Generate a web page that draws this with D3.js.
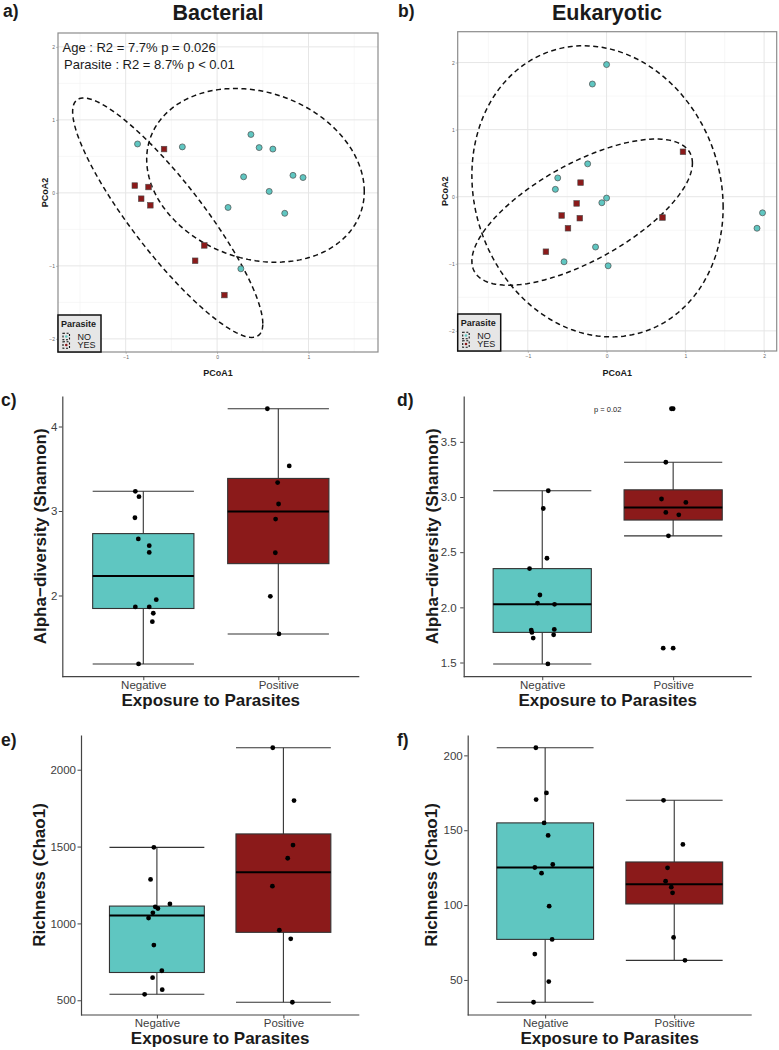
<!DOCTYPE html>
<html>
<head>
<meta charset="utf-8">
<script src="https://cdn.jsdelivr.net/npm/d3@7"></script>
<style>
  body { margin: 0; background: #fff; }
  text { font-family: "Liberation Sans", Arial, Helvetica, sans-serif; }
</style>
</head>
<body>
<script>
var W = 779, H = 1050;
var CYAN = "#5fc6c1", RED = "#8b1a1a";

// ---- PCoA, bacterial
var bacNO_x = [-0.87, -0.38, 0.37, 0.46, 0.61, 0.29, 0.83, 0.94, 0.57, 0.12, 0.74, 0.26];
var bacNO_y = [0.67, 0.63, 0.80, 0.62, 0.60, 0.22, 0.24, 0.21, 0.02, -0.20, -0.28, -1.04];
var bacYES_x = [-0.58, -0.90, -0.75, -0.83, -0.73, -0.14, -0.24, 0.08];
var bacYES_y = [0.60, 0.10, 0.08, -0.08, -0.17, -0.72, -0.93, -1.40];
// ellipses: centre x, centre y, half width, half height, correlation
var bacEllNO = [0.42, 0.24, 1.19, 1.19, -0.185];
var bacEllYES = [-0.54, -0.34, 1.04, 1.64, -0.885];
var bacXDom = [-1.74, 1.76], bacYDom = [-2.18, 2.19];
var bacXTicks = [-1, 0, 1], bacYTicks = [-2, -1, 0, 1, 2];
var bacNotes = ["Age : R2 = 7.7% p = 0.026", "Parasite : R2 = 8.7% p < 0.01"];

// ---- PCoA, eukaryotic
var eukNO_x = [0.00, -0.18, -0.24, -0.62, -0.65, 0.00, -0.06, -0.14, -0.54, 0.02, 1.98, 1.91];
var eukNO_y = [1.97, 1.68, 0.49, 0.28, 0.11, -0.02, -0.09, -0.75, -0.97, -1.03, -0.24, -0.47];
var eukYES_x = [0.97, -0.33, -0.38, -0.57, -0.34, -0.49, -0.77, 0.71];
var eukYES_y = [0.67, 0.21, -0.10, -0.28, -0.32, -0.47, -0.82, -0.31];
var eukEllNO = [-0.115, 0.08, 1.595, 2.17, -0.11];
var eukEllYES = [-0.31, -0.23, 1.40, 1.09, 0.67];
var eukXDom = [-1.89, 2.16], eukYDom = [-2.30, 2.46];
var eukXTicks = [-1, 0, 1, 2], eukYTicks = [-2, -1, 0, 1, 2];

var legendLabels = ["NO", "YES"];

// ---- box plots
var groups = ["Negative", "Positive"];

var shanBacNeg = [3.233, 3.17, 2.92, 2.67, 2.59, 2.51, 1.95, 1.865, 1.865, 1.79, 1.69, 1.19];
var shanBacNegJit = [-0.059, -0.032, -0.062, -0.037, 0.044, 0.044, 0.096, -0.059, 0.044, 0.074, 0.067, -0.035];
var shanBacPos = [4.21, 3.534, 3.336, 3.083, 2.905, 2.506, 1.99, 1.545];
var shanBacPosJit = [-0.081, 0.081, -0.005, 0.002, -0.02, -0.022, -0.059, 0.005];

var shanEukNeg = [3.057, 2.896, 2.445, 2.351, 2.112, 2.039, 2.027, 1.794, 1.80, 1.773, 1.751, 1.721, 1.487];
var shanEukNegJit = [0.046, 0.008, 0.036, -0.097, -0.018, -0.036, 0.094, -0.084, 0.092, -0.079, 0.087, -0.069, 0.043];
var shanEukPos = [3.80, 3.315, 2.982, 2.951, 2.86, 2.839, 2.648, 1.63];
var shanEukPosJit = [-0.013, -0.056, -0.089, 0.097, -0.056, 0.043, -0.036, -0.076];

var chaoBacNeg = [1495, 1286, 1127, 1108, 1097, 1069, 1035, 859, 692, 647, 569, 539];
var chaoBacNegJit = [-0.024, -0.05, 0.103, -0.013, 0.008, -0.032, -0.066, -0.024, 0.039, -0.034, 0.042, -0.097];
var chaoBacPos = [2143, 1799, 1510, 1424, 1242, 956, 900, 487];
var chaoBacPosJit = [-0.084, 0.084, 0.076, 0.034, -0.087, -0.032, 0.058, 0.071];

var chaoEukNeg = [205.1, 174.9, 170.5, 154.9, 146.5, 127.1, 125.1, 121.3, 99.3, 77.1, 67.3, 48.9, 35.1];
var chaoEukNegJit = [-0.072, 0.010, -0.07, -0.008, 0.023, 0.059, -0.08, -0.028, 0.031, 0.054, -0.08, 0.028, -0.09];
var chaoEukPos = [170, 140.5, 124.9, 116, 112, 108.2, 78.4, 63.1];
var chaoEukPosJit = [-0.083, 0.067, -0.052, -0.067, -0.023, -0.013, -0.005, 0.083];

var svg = d3.select("body").append("svg").attr("width", W).attr("height", H);
svg.append("rect").attr("width", W).attr("height", H).attr("fill", "#fff");

function tag(x, y, s){
  svg.append("text").attr("x", x).attr("y", y).attr("font-size", 17.5)
    .attr("font-weight", "bold").attr("fill", "#1a1a1a").text(s);
}

function ellipsePts(e){ // e = [cx, cy, sx, sy, r]
  var r = e[4], k = Math.sqrt(1 - r*r);
  return d3.range(0, 2*Math.PI, Math.PI/90).map(function(t){
    return [e[0] + e[2]*Math.cos(t), e[1] + e[3]*(r*Math.cos(t) + k*Math.sin(t))];
  });
}

function pcoa(o){
  var x = d3.scaleLinear().domain(o.xDom).range([o.x0, o.x1]);
  var y = d3.scaleLinear().domain(o.yDom).range([o.y1, o.y0]);
  var g = svg.append("g");

  // grid
  var minX = d3.range(Math.floor(o.xDom[0]) + 0.5, o.xDom[1], 1).filter(function(v){ return v > o.xDom[0]; });
  var minY = d3.range(Math.floor(o.yDom[0]) + 0.5, o.yDom[1], 1).filter(function(v){ return v > o.yDom[0]; });
  g.selectAll(".mx").data(minX).enter().append("line")
    .attr("x1", x).attr("x2", x).attr("y1", o.y0).attr("y2", o.y1)
    .attr("stroke", "#f2f2f2").attr("stroke-width", 0.6);
  g.selectAll(".my").data(minY).enter().append("line")
    .attr("y1", y).attr("y2", y).attr("x1", o.x0).attr("x2", o.x1)
    .attr("stroke", "#f2f2f2").attr("stroke-width", 0.6);
  g.selectAll(".gx").data(o.xTicks).enter().append("line")
    .attr("x1", x).attr("x2", x).attr("y1", o.y0).attr("y2", o.y1)
    .attr("stroke", "#e6e6e6").attr("stroke-width", 1);
  g.selectAll(".gy").data(o.yTicks).enter().append("line")
    .attr("y1", y).attr("y2", y).attr("x1", o.x0).attr("x2", o.x1)
    .attr("stroke", "#e6e6e6").attr("stroke-width", 1);

  // axes (tiny labels)
  var ax = g.append("g").attr("transform", "translate(0," + o.y1 + ")")
    .call(d3.axisBottom(x).tickValues(o.xTicks).tickFormat(d3.format("d")).tickSize(2).tickPadding(1).tickSizeOuter(0));
  var ay = g.append("g").attr("transform", "translate(" + o.x0 + ",0)")
    .call(d3.axisLeft(y).tickValues(o.yTicks).tickFormat(d3.format("d")).tickSize(2).tickPadding(1).tickSizeOuter(0));
  [ax, ay].forEach(function(a){
    a.select(".domain").remove();
    a.selectAll(".tick line").attr("stroke", "#999").attr("stroke-width", 0.6);
    a.selectAll(".tick text").attr("font-size", 5).attr("fill", "#666")
      .attr("font-family", "'Liberation Sans', Arial, sans-serif");
  });

  // frame
  g.append("rect").attr("x", o.x0).attr("y", o.y0).attr("width", o.x1 - o.x0).attr("height", o.y1 - o.y0)
    .attr("fill", "none").attr("stroke", "#8c8c8c").attr("stroke-width", 1.2);

  // ellipses
  var line = d3.line().x(function(d){ return x(d[0]); }).y(function(d){ return y(d[1]); }).curve(d3.curveLinearClosed);
  [o.ellNO, o.ellYES].forEach(function(e){
    g.append("path").attr("d", line(ellipsePts(e))).attr("fill", "none")
      .attr("stroke", "#111").attr("stroke-width", 1.5).attr("stroke-dasharray", "5,3.5");
  });

  // points
  g.selectAll(".pn").data(o.noX).enter().append("circle")
    .attr("cx", function(d){ return x(d); }).attr("cy", function(d, i){ return y(o.noY[i]); })
    .attr("r", 3).attr("fill", CYAN).attr("stroke", "#4d4d4d").attr("stroke-width", 0.7);
  g.selectAll(".py").data(o.yesX).enter().append("rect")
    .attr("x", function(d){ return x(d) - 2.8; }).attr("y", function(d, i){ return y(o.yesY[i]) - 2.8; })
    .attr("width", 5.6).attr("height", 5.6).attr("fill", RED).attr("stroke", "#4d4d4d").attr("stroke-width", 0.6);

  // axis titles
  g.append("text").attr("x", (o.x0 + o.x1)/2).attr("y", 375.7).attr("text-anchor", "middle")
    .attr("font-size", 9).attr("font-weight", "bold").attr("fill", "#1a1a1a").text("PCoA1");
  g.append("text").attr("transform", "translate(" + (o.x0 - 10) + "," + ((o.y0 + o.y1)/2) + ") rotate(-90)")
    .attr("text-anchor", "middle").attr("font-size", 9).attr("font-weight", "bold").attr("fill", "#1a1a1a").text("PCoA2");

  // legend
  var lg = g.append("g").attr("transform", "translate(" + o.x0 + "," + (o.y1 - 37) + ")");
  lg.append("rect").attr("width", 43).attr("height", 37).attr("fill", "#e6e6e6")
    .attr("stroke", "#111").attr("stroke-width", 1.5);
  lg.append("text").attr("x", 3).attr("y", 11.5).attr("font-size", 9).attr("font-weight", "bold")
    .attr("fill", "#1a1a1a").text("Parasite");
  var cols = [CYAN, RED];
  legendLabels.forEach(function(lab, i){
    var cy = 21.5 + i*8.5;
    lg.append("rect").attr("x", 5).attr("y", cy - 3.2).attr("width", 6.5).attr("height", 6.4)
      .attr("fill", "none").attr("stroke", "#111").attr("stroke-width", 1.1).attr("stroke-dasharray", "2,1.6");
    lg.append("circle").attr("cx", 8.3).attr("cy", cy).attr("r", 1.3).attr("fill", cols[i]);
    lg.append("text").attr("x", 19.5).attr("y", cy + 3.3).attr("font-size", 9).attr("fill", "#1a1a1a").text(lab);
  });

  // notes
  (o.notes || []).forEach(function(s, i){
    g.append("text").attr("x", o.x0 + 4.5 + i*1.6).attr("y", o.y0 + 19 + i*17.3)
      .attr("font-size", 13).attr("fill", "#1a1a1a").text(s);
  });
}

function boxPanel(o){
  var x = d3.scalePoint().domain(groups).range([o.x0, o.x1]).padding(0.6);
  var bw = 0.75*x.step();
  var all = o.neg.concat(o.pos), ext = d3.extent(all), pad = 0.05*(ext[1] - ext[0]);
  var y = d3.scaleLinear().domain([ext[0] - pad, ext[1] + pad]).range([o.y1, o.y0]);
  var g = svg.append("g");
  var sets = [
    {cat: groups[0], vals: o.neg, jit: o.negJit, fill: CYAN},
    {cat: groups[1], vals: o.pos, jit: o.posJit, fill: RED}
  ];
  sets.forEach(function(s){
    var v = s.vals.slice().sort(d3.ascending);
    var q1 = d3.quantile(v, 0.25), med = d3.quantile(v, 0.5), q3 = d3.quantile(v, 0.75), iqr = q3 - q1;
    var inside = v.filter(function(d){ return d >= q1 - 1.5*iqr && d <= q3 + 1.5*iqr; });
    var lo = d3.min(inside), hi = d3.max(inside);
    var out = v.filter(function(d){ return d < lo || d > hi; });
    var cx = x(s.cat);
    g.append("line").attr("x1", cx).attr("x2", cx).attr("y1", y(lo)).attr("y2", y(hi))
      .attr("stroke", "#333").attr("stroke-width", 1.1);
    [lo, hi].forEach(function(w){
      g.append("line").attr("x1", cx - bw/2).attr("x2", cx + bw/2).attr("y1", y(w)).attr("y2", y(w))
        .attr("stroke", "#333").attr("stroke-width", 1.1);
    });
    g.append("rect").attr("x", cx - bw/2).attr("y", y(q3)).attr("width", bw).attr("height", y(q1) - y(q3))
      .attr("fill", s.fill).attr("stroke", "#333").attr("stroke-width", 1.1);
    g.append("line").attr("x1", cx - bw/2).attr("x2", cx + bw/2).attr("y1", y(med)).attr("y2", y(med))
      .attr("stroke", "#000").attr("stroke-width", 2);
    out.forEach(function(d){
      g.append("circle").attr("cx", cx).attr("cy", y(d)).attr("r", 2.4).attr("fill", "#000");
    });
    g.selectAll(null).data(s.vals).enter().append("circle")
      .attr("cx", function(d, i){ return cx + s.jit[i]*x.step(); })
      .attr("cy", function(d){ return y(d); })
      .attr("r", 2.4).attr("fill", "#000");
  });

  var ax = g.append("g").attr("transform", "translate(0," + o.y1 + ")")
    .call(d3.axisBottom(x).tickSize(3.5).tickPadding(0.5).tickSizeOuter(0));
  var ay = g.append("g").attr("transform", "translate(" + o.x0 + ",0)")
    .call(d3.axisLeft(y).tickValues(o.yTicks).tickFormat(d3.format(o.fmt)).tickSize(3.5).tickPadding(o.tickPad || 1.5).tickSizeOuter(0));
  // x axis line spans the whole panel
  ax.select(".domain").attr("d", "M" + o.x0 + ",0H" + o.x1);
  [ax, ay].forEach(function(a){
    a.select(".domain").attr("stroke", "#444").attr("stroke-width", 1.2);
    a.selectAll(".tick line").attr("stroke", "#444").attr("stroke-width", 1);
    a.selectAll(".tick text").attr("font-size", 11.5).attr("fill", "#3d3d3d")
      .attr("font-family", "'Liberation Sans', Arial, sans-serif");
  });

  g.append("text").attr("x", (o.x0 + o.x1)/2).attr("y", o.y1 + 29)
    .attr("text-anchor", "middle").attr("font-size", 17).attr("font-weight", "bold").attr("fill", "#1a1a1a")
    .text("Exposure to Parasites");
  g.append("text").attr("transform", "translate(" + o.ylabX + "," + ((o.y0 + o.y1)/2) + ") rotate(-90)")
    .attr("text-anchor", "middle").attr("font-size", 17).attr("font-weight", "bold").attr("fill", "#1a1a1a")
    .text(o.ylab);
  if(o.pnote){
    g.append("text").attr("x", (o.x0 + o.x1)/2).attr("y", y(o.pnote[1]) + 3)
      .attr("text-anchor", "middle").attr("font-size", 7.5).attr("fill", "#1a1a1a").text(o.pnote[0]);
  }
}

// titles
svg.append("text").attr("x", 218).attr("y", 19.8).attr("text-anchor", "middle")
  .attr("font-size", 21.5).attr("font-weight", "bold").attr("fill", "#1a1a1a").text("Bacterial");
svg.append("text").attr("x", 607).attr("y", 19.8).attr("text-anchor", "middle")
  .attr("font-size", 21.5).attr("font-weight", "bold").attr("fill", "#1a1a1a").text("Eukaryotic");
tag(3, 17, "a)");
tag(398, 17, "b)");
tag(1, 406, "c)");
tag(397, 406, "d)");
tag(1, 746, "e)");
tag(397, 746, "f)");

pcoa({x0: 58, x1: 378, y0: 33, y1: 352, xDom: bacXDom, yDom: bacYDom, xTicks: bacXTicks, yTicks: bacYTicks,
  noX: bacNO_x, noY: bacNO_y, yesX: bacYES_x, yesY: bacYES_y, ellNO: bacEllNO, ellYES: bacEllYES, notes: bacNotes});
pcoa({x0: 457.7, x1: 776.7, y0: 31.7, y1: 351, xDom: eukXDom, yDom: eukYDom, xTicks: eukXTicks, yTicks: eukYTicks,
  noX: eukNO_x, noY: eukNO_y, yesX: eukYES_x, yesY: eukYES_y, ellNO: eukEllNO, ellYES: eukEllYES});

boxPanel({x0: 62.3, x1: 359.3, y0: 396, y1: 676.7, neg: shanBacNeg, negJit: shanBacNegJit, pos: shanBacPos, posJit: shanBacPosJit,
  yTicks: [2, 3, 4], fmt: "d", ylab: "Alpha\u2212diversity (Shannon)", ylabX: 46});
boxPanel({x0: 463.7, x1: 751.7, y0: 396, y1: 676.7, neg: shanEukNeg, negJit: shanEukNegJit, pos: shanEukPos, posJit: shanEukPosJit,
  yTicks: [1.5, 2, 2.5, 3, 3.5], fmt: ".1f", tickPad: 3.5, ylab: "Alpha\u2212diversity (Shannon)", ylabX: 438, pnote: ["p = 0.02", 3.8]});
boxPanel({x0: 81, x1: 359.3, y0: 735, y1: 1015, neg: chaoBacNeg, negJit: chaoBacNegJit, pos: chaoBacPos, posJit: chaoBacPosJit,
  yTicks: [500, 1000, 1500, 2000], fmt: "d", ylab: "Richness (Chao1)", ylabX: 45});
boxPanel({x0: 467.7, x1: 751.7, y0: 735, y1: 1015, neg: chaoEukNeg, negJit: chaoEukNegJit, pos: chaoEukPos, posJit: chaoEukPosJit,
  yTicks: [50, 100, 150, 200], fmt: "d", ylab: "Richness (Chao1)", ylabX: 437});
</script>
</body>
</html>
